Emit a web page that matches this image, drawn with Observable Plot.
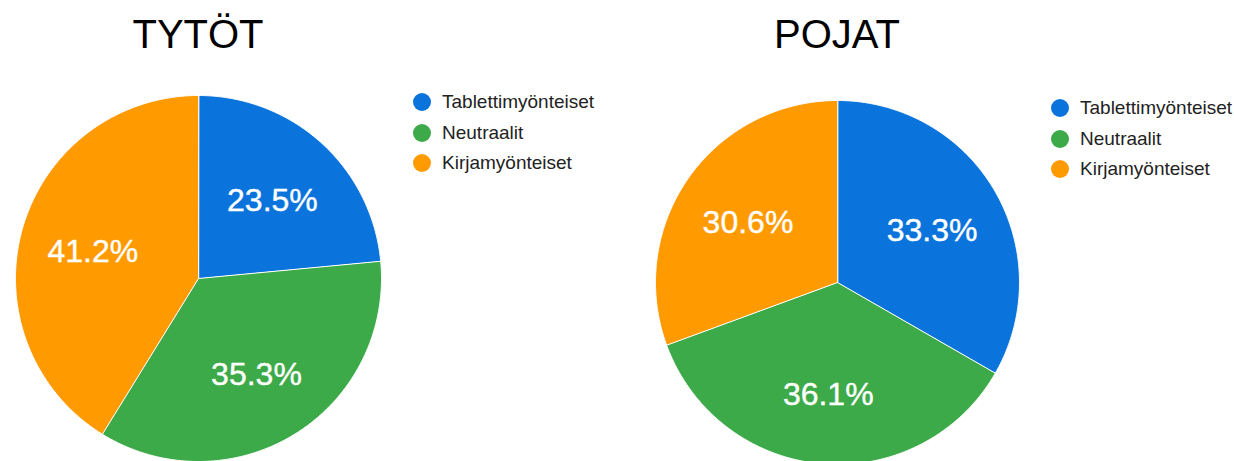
<!DOCTYPE html>
<html>
<head>
<meta charset="utf-8">
<script src="https://cdn.jsdelivr.net/npm/d3@7"></script>
<script src="https://cdn.jsdelivr.net/npm/@observablehq/plot@0.6"></script>
<style>
  html, body { margin: 0; padding: 0; background: #fff; }
  body { width: 1234px; height: 461px; position: relative; overflow: hidden; font-family: "Liberation Sans", Arial, sans-serif; }
  .title { position: absolute; width: 400px; text-align: center; font-size: 40px; line-height: 40px; color: #000; top: 14px; }
  .pie { position: absolute; }
  .item { position: absolute; height: 18px; line-height: 18px; font-size: 19px; color: #222; white-space: nowrap; }
  .dot { position: absolute; width: 18px; height: 18px; border-radius: 50%; }
</style>
</head>
<body>
<script>
// ---- data ----
const categories = ["Tablettimyönteiset", "Neutraalit", "Kirjamyönteiset"];
const colors = ["#0a74dc", "#3caa48", "#ff9a00"];
const groups = ["TYTÖT", "POJAT"];
const tytotValues = [23.5, 35.3, 41.2];
const pojatValues = [33.3, 36.1, 30.6];

// ---- layout (styles) ----
const layouts = [
  {cx: 198, cy: 278, r: 183, legendX: 422, legendY: 102, legendStep: 30.5},
  {cx: 837, cy: 282, r: 182, legendX: 1060, legendY: 108, legendStep: 30.5}
];

function pieChart(values, L) {
  const total = d3.sum(values);
  let acc = 0;
  const slices = values.map((v, i) => {
    const a0 = acc / total * 2 * Math.PI;
    acc += v;
    const a1 = acc / total * 2 * Math.PI;
    return {cat: categories[i], value: v, a0, a1, mid: (a0 + a1) / 2, color: colors[i]};
  });
  const marks = slices.map(s => {
    const n = Math.max(2, Math.ceil((s.a1 - s.a0) / (Math.PI / 360)));
    const pts = [{x: 0, y: 0}];
    for (let k = 0; k <= n; k++) {
      const a = s.a0 + (s.a1 - s.a0) * k / n;
      pts.push({x: Math.sin(a), y: Math.cos(a)});
    }
    return Plot.line(pts, {x: "x", y: "y", fill: s.color, stroke: "#fff", strokeWidth: 1, curve: "linear-closed", strokeLinejoin: "round"});
  });
  const f = 0.6;
  marks.push(Plot.text(slices, {
    x: d => f * Math.sin(d.mid),
    y: d => f * Math.cos(d.mid),
    text: d => d.value.toFixed(1) + "%",
    fill: "#fff",
    stroke: "#fff",
    strokeWidth: 0.4,
    fontSize: 32,
    fontFamily: "Liberation Sans, Arial, sans-serif",
    dy: 3
  }));
  const size = 2 * L.r + 2;
  return Plot.plot({
    width: size, height: size, margin: 1,
    x: {domain: [-1, 1], axis: null},
    y: {domain: [-1, 1], axis: null},
    marks
  });
}

[tytotValues, pojatValues].forEach((vals, gi) => {
  const L = layouts[gi];
  const t = document.createElement("div");
  t.className = "title";
  t.textContent = groups[gi];
  t.style.left = (L.cx - 200) + "px";
  document.body.appendChild(t);

  const wrap = document.createElement("div");
  wrap.className = "pie";
  wrap.style.left = (L.cx - L.r - 1) + "px";
  wrap.style.top = (L.cy - L.r - 1) + "px";
  wrap.appendChild(pieChart(vals, L));
  document.body.appendChild(wrap);

  categories.forEach((c, i) => {
    const cy = L.legendY + i * L.legendStep;
    const dot = document.createElement("span");
    dot.className = "dot";
    dot.style.background = colors[i];
    dot.style.left = (L.legendX - 9) + "px";
    dot.style.top = (cy - 9) + "px";
    document.body.appendChild(dot);
    const it = document.createElement("div");
    it.className = "item";
    it.textContent = c;
    it.style.left = (L.legendX + 20) + "px";
    it.style.top = (cy - 9) + "px";
    document.body.appendChild(it);
  });
});
</script>
</body>
</html>
